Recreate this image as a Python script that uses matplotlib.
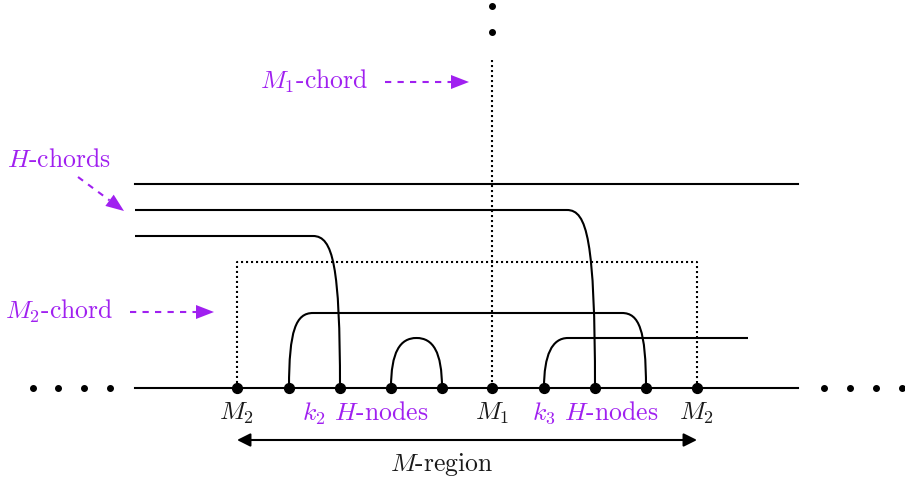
import numpy as np
import matplotlib.pyplot as plt
from matplotlib.path import Path
from matplotlib.patches import PathPatch, Polygon

plt.rcParams['mathtext.fontset'] = 'cm'
plt.rcParams['font.family'] = ['cmr10', 'DejaVu Serif']

PURPLE = '#A020F0'
INK = '#1a1a1a'

# nodes on the base line (pixel x positions)
node_x = [237, 289, 340, 391, 442, 492, 544, 595, 646, 697]
left_dots = [33, 58, 84, 110]
right_dots = [824, 850, 876, 902]
top_dots = [6, 32]

base_y = 388
labels_below = [(237, r'$M_2$', INK), (365, r'$k_2$ $H$-nodes', PURPLE),
                (492, r'$M_1$', INK), (595, r'$k_3$ $H$-nodes', PURPLE),
                (697, r'$M_2$', INK)]

fig = plt.figure(figsize=(9.05, 4.83), dpi=100)
ax = fig.add_axes([0, 0, 1, 1])
ax.set_xlim(0, 905)
ax.set_ylim(483, 0)
ax.axis('off')

lw = 1.5
dots = (0, (1, 1.4))


def curve(pts, codes, **kw):
    ax.add_patch(PathPatch(Path(pts, codes), fill=False, lw=lw, color='black', **kw))


M, L, C = Path.MOVETO, Path.LINETO, Path.CURVE4

# base line
ax.plot([135, 798], [base_y, base_y], color='black', lw=lw)

# top H-chord straight across
ax.plot([135, 798], [184, 184], color='black', lw=lw)

# H-chord going down to node 595
curve([(135, 210), (567, 210), (587, 210), (595, 240), (595, 388)],
      [M, L, C, C, C])
# H-chord going down to node 340
curve([(135, 236), (313, 236), (333, 236), (340, 266), (340, 388)],
      [M, L, C, C, C])

# long arc 289 -> 646
curve([(289, 388), (289, 330), (296, 313), (313, 313), (622, 313),
       (639, 313), (646, 330), (646, 388)],
      [M, C, C, C, L, C, C, C])
# small arch 391 -> 442
curve([(391, 388), (391, 352), (400, 338), (416.5, 338),
       (433, 338), (442, 352), (442, 388)],
      [M, C, C, C, C, C, C])
# arc from 544 going right
curve([(544, 388), (544, 355), (552, 338), (568, 338), (748, 338)],
      [M, C, C, C, L])

# M2 chord dotted rectangle
ax.plot([237, 237, 697, 697], [388, 262, 262, 388], color='black', lw=lw, ls=dots)
# M1 chord dotted vertical
ax.plot([492, 492], [60, 388], color='black', lw=lw, ls=dots)

# nodes and dots
ax.scatter(node_x, [base_y] * len(node_x), s=50, color='black', zorder=5)
ax.scatter(left_dots + right_dots, [base_y] * 8, s=16, color='black')
ax.scatter([492, 492], top_dots, s=16, color='black')

fs = 18.5
for x, t, c in labels_below:
    ax.text(x, 413, t, ha='center', va='center', fontsize=fs, color=c)

# M-region double arrow
ax.annotate('', xy=(237, 440), xytext=(697, 440),
            arrowprops=dict(arrowstyle='<|-|>', color='black', lw=lw,
                            mutation_scale=20, shrinkA=0, shrinkB=0))
ax.text(442, 465, r'$M$-region', ha='center', va='center', fontsize=fs, color=INK)


def dashed_arrow(x0, y0, x1, y1):
    d = np.array([x1 - x0, y1 - y0], float)
    n = d / np.hypot(*d)
    p = np.array([-n[1], n[0]])
    hl, hw = 18, 7
    base = np.array([x1, y1]) - n * hl
    ax.plot([x0, base[0]], [y0, base[1]], color=PURPLE, lw=lw, ls=(0, (3, 3)))
    ax.add_patch(Polygon([(x1, y1), base + p * hw, base - p * hw],
                         closed=True, color=PURPLE, lw=0))


ax.text(314, 81, r'$M_1$-chord', ha='center', va='center', fontsize=fs, color=PURPLE)
dashed_arrow(385, 82, 469, 82)
ax.text(59, 160, r'$H$-chords', ha='center', va='center', fontsize=fs, color=PURPLE)
dashed_arrow(78, 177, 124, 211)
ax.text(59, 311, r'$M_2$-chord', ha='center', va='center', fontsize=fs, color=PURPLE)
dashed_arrow(130, 312, 214, 312)

fig.savefig('out.png', dpi=100)
